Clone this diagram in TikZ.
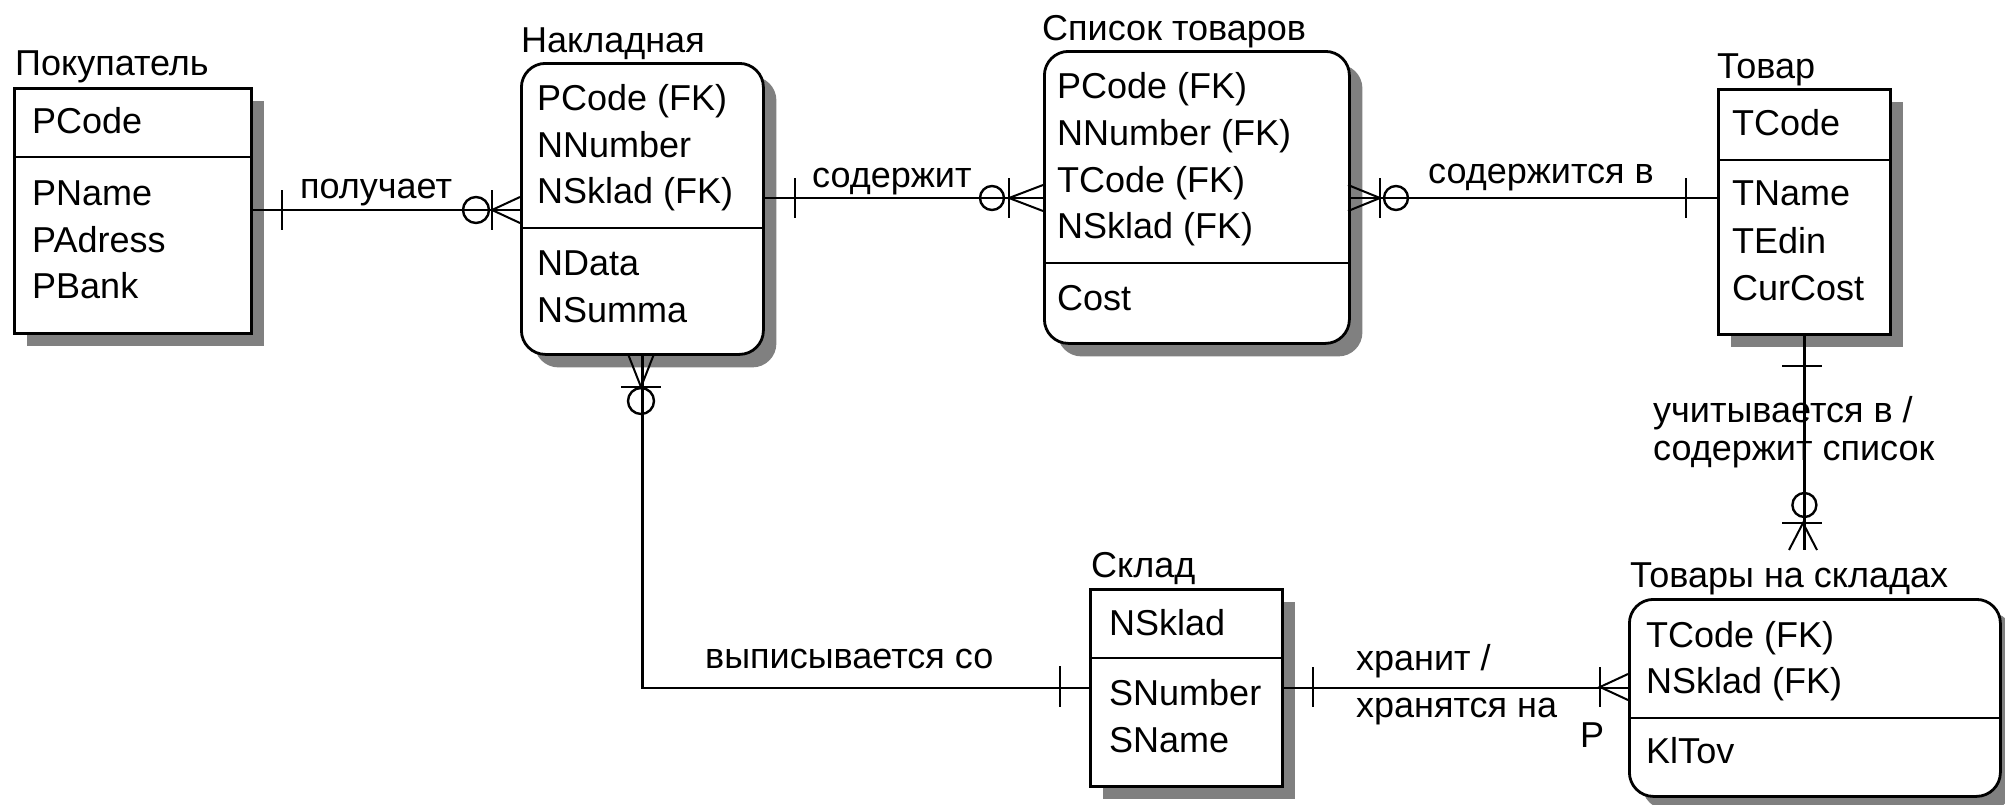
\documentclass[tikz,border=0pt]{standalone}
\usepackage{fontspec}
\setmainfont{Liberation Sans}
\usetikzlibrary{shadows}
\newcommand{\erfont}{\fontsize{36pt}{44pt}\selectfont}
\tikzstyle{entity} = [rectangle, draw=black, line width=2.8pt, fill=white, inner sep=0pt, anchor=north west, drop shadow={shadow xshift=13pt, shadow yshift=-13pt, opacity=1, fill=black!50}]
\tikzstyle{rentity} = [entity, rounded corners=24pt]
\tikzstyle{title} = [anchor=base west, inner sep=0pt, font=\erfont]
\tikzstyle{field} = [anchor=base west, inner sep=0pt, font=\erfont]
\tikzstyle{lbl} = [anchor=base west, inner sep=0pt, font=\erfont]
\tikzstyle{divider} = [line width=2.8pt]
\tikzstyle{conn} = [line width=2.4pt]
\tikzstyle{tick} = [line width=2.4pt]
\tikzstyle{foot} = [line width=2pt]

\begin{document}
\begin{tikzpicture}[x=1pt, y=-1pt]

\path [use as bounding box, fill=white] (0,0) rectangle (2005,804);

% entities
\node (pokT) [title] at (15,75) {Покупатель};
\node (pok) [entity, minimum width=237pt, minimum height=245pt] at (13,87) {};
\draw [divider] (pok.west |- 0,157) -- (pok.east |- 0,157);
\node (pok1) [field] at (32,133) {PCode};
\node (pok2) [field] at (32,205) {PName};
\node (pok3) [field] at (32,252) {PAdress};
\node (pok4) [field] at (32,298) {PBank};

\node (nakT) [title] at (521,52) {Накладная};
\node (nak) [rentity, minimum width=242pt, minimum height=291pt] at (520,62) {};
\draw [divider] (nak.west |- 0,228) -- (nak.east |- 0,228);
\node (nak1) [field] at (537,110) {PCode (FK)};
\node (nak2) [field] at (537,157) {NNumber};
\node (nak3) [field] at (537,203) {NSklad (FK)};
\node (nak4) [field] at (537,275) {NData};
\node (nak5) [field] at (537,322) {NSumma};

\node (spiT) [title] at (1042,40) {Список товаров};
\node (spi) [rentity, minimum width=305pt, minimum height=292pt] at (1043,50) {};
\draw [divider] (spi.west |- 0,263) -- (spi.east |- 0,263);
\node (spi1) [field] at (1057,98) {PCode (FK)};
\node (spi2) [field] at (1057,145) {NNumber (FK)};
\node (spi3) [field] at (1057,192) {TCode (FK)};
\node (spi4) [field] at (1057,238) {NSklad (FK)};
\node (spi5) [field] at (1057,310) {Cost};

\node (tovT) [title] at (1717,78) {Товар};
\node (tov) [entity, minimum width=172pt, minimum height=245pt] at (1717,88) {};
\draw [divider] (tov.west |- 0,160) -- (tov.east |- 0,160);
\node (tov1) [field] at (1732,135) {TCode};
\node (tov2) [field] at (1732,205) {TName};
\node (tov3) [field] at (1732,253) {TEdin};
\node (tov4) [field] at (1732,300) {CurCost};

\node (sklT) [title] at (1091,577) {Склад};
\node (skl) [entity, minimum width=192pt, minimum height=197pt] at (1089,588) {};
\draw [divider] (skl.west |- 0,658) -- (skl.east |- 0,658);
\node (skl1) [field] at (1109,635) {NSklad};
\node (skl2) [field] at (1109,705) {SNumber};
\node (skl3) [field] at (1109,752) {SName};

\node (tnsT) [title] at (1630,587) {Товары на складах};
\node (tns) [rentity, minimum width=371pt, minimum height=197pt] at (1628,598) {};
\draw [divider] (tns.west |- 0,718) -- (tns.east |- 0,718);
\node (tns1) [field] at (1646,647) {TCode (FK)};
\node (tns2) [field] at (1646,693) {NSklad (FK)};
\node (tns3) [field] at (1646,763) {KlTov};

% relationships
\draw [conn] (pok.east |- 0,210) -- (nak.west |- 0,210);
\draw [tick] (282,190) -- (282,230);
\draw [tick] (492,190) -- (492,230);
\draw [tick] (476,210) circle (13);
\draw [foot] (520,197) -- (492,210) -- (520,223);
\node (r1) [lbl] at (300,198) {получает};

\draw [conn] (nak.east |- 0,198) -- (spi.west |- 0,198);
\draw [tick] (795,178) -- (795,218);
\draw [tick] (1009,178) -- (1009,218);
\draw [tick] (992,198) circle (12);
\draw [foot] (1043,185) -- (1009,198) -- (1043,211);
\node (r2) [lbl] at (812,187) {содержит};

\draw [conn] (spi.east |- 0,198) -- (tov.west |- 0,198);
\draw [foot] (1348,185) -- (1380,198) -- (1348,211);
\draw [tick] (1380,178) -- (1380,218);
\draw [tick] (1396,198) circle (12);
\draw [tick] (1686,178) -- (1686,218);
\node (r3) [lbl] at (1428,183) {содержится в};

\coordinate (tnsTop) at (tov.south |- 0,550);
\draw [conn] (tov.south) -- (tnsTop);
\draw [tick] (1782,366) -- (1822,366);
\draw [tick] (tov.south |- 0,505) circle (12);
\draw [tick] (1782,523) -- (1822,523);
\draw [foot] (1789,550) -- (1803,523) -- (1817,550);
\node (r4a) [lbl] at (1653,422) {учитывается в /};
\node (r4b) [lbl] at (1653,460) {содержит список};

\draw [conn] (nak.south) |- (skl.west);
\draw [foot] (628,354) -- (641,387) -- (654,354);
\draw [tick] (621,387) -- (661,387);
\draw [tick] (641,401) circle (13);
\draw [tick] (1060,666) -- (1060,707);
\node (r5) [lbl] at (705,668) {выписывается со};

\draw [conn] (skl.east) -- (tns.west |- skl.east);
\draw [tick] (1313,667) -- (1313,707);
\draw [tick] (1600,667) -- (1600,707);
\draw [foot] (1628,674) -- (1600,687) -- (1628,700);
\node (r6a) [lbl] at (1356,670) {хранит /};
\node (r6b) [lbl] at (1356,717) {хранятся на};
\node (r6p) [lbl] at (1580,747) {P};

\end{tikzpicture}
\end{document}
